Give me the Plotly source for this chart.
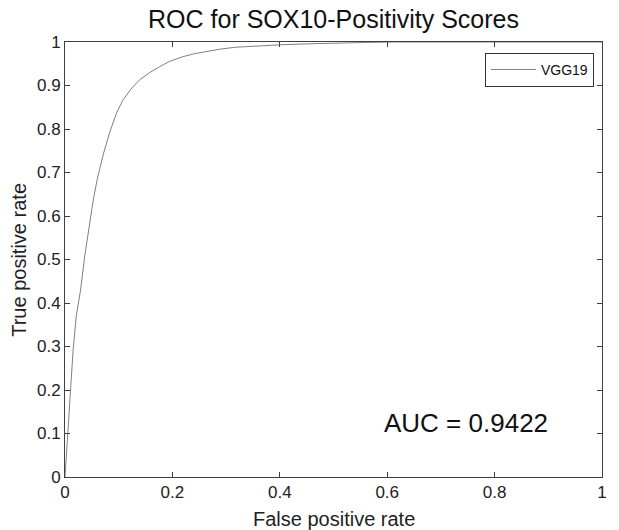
import plotly.graph_objects as go

fpr = [0, 0.002, 0.005, 0.010, 0.015, 0.021, 0.029, 0.037, 0.046, 0.053, 0.061, 0.072,
       0.084, 0.096, 0.108, 0.123, 0.139, 0.158, 0.176, 0.194, 0.219, 0.240, 0.263, 0.291,
       0.318, 0.358, 0.409, 0.460, 0.511, 0.560, 0.610, 0.700, 0.800, 0.900, 1.0]
tpr = [0, 0.04, 0.10, 0.20, 0.29, 0.37, 0.43, 0.51, 0.59, 0.64, 0.69, 0.745,
       0.795, 0.837, 0.867, 0.892, 0.913, 0.93, 0.943, 0.955, 0.966, 0.973, 0.978, 0.984,
       0.988, 0.991, 0.994, 0.996, 0.998, 0.999, 1.0, 1.0, 1.0, 1.0, 1.0]
series_name = "VGG19"
auc_text = "AUC = 0.9422"

FONT = "Liberation Sans, Arial, sans-serif"
AX = "#404040"

fig = go.Figure()
fig.add_trace(go.Scatter(x=fpr, y=tpr, mode="lines", name=series_name,
                         line=dict(color="#808080", width=1)))

axis_common = dict(range=[0, 1], showline=True, mirror="ticks", linecolor=AX, linewidth=1,
                   ticks="inside", ticklen=5, tickcolor=AX, showgrid=False, zeroline=False,
                   tickfont=dict(family=FONT, size=17, color="#222"))

fig.update_layout(
    width=619, height=530,
    margin=dict(l=65, r=14, t=42, b=53),
    paper_bgcolor="white", plot_bgcolor="white",
    font=dict(family=FONT, color="#111"),
    title=dict(text="ROC for SOX10-Positivity Scores", x=0.5, xref="paper",
               y=1 - 19 / 530, yref="container", yanchor="middle", xanchor="center",
               font=dict(family=FONT, size=25, color="#111")),
    xaxis=dict(dtick=0.2, tick0=0, **axis_common),
    yaxis=dict(dtick=0.1, tick0=0, **axis_common),
    showlegend=True,
    legend=dict(x=0.985, y=0.975, xanchor="right", yanchor="top",
                bordercolor="#333", borderwidth=1, bgcolor="white",
                font=dict(family=FONT, size=14, color="#111"),
                itemwidth=45, tracegroupgap=0),
    annotations=[
        dict(text="False positive rate", xref="paper", yref="paper", x=0.5, y=-(519 - 477) / 435,
             xanchor="center", yanchor="middle", showarrow=False,
             font=dict(family=FONT, size=20, color="#222")),
        dict(text="True positive rate", xref="paper", yref="paper", x=(18 - 65) / 540, y=0.5,
             xanchor="center", yanchor="middle", showarrow=False, textangle=-90,
             font=dict(family=FONT, size=20, color="#222")),
        dict(text=auc_text, xref="x", yref="y", x=0.591, y=0.124,
             xanchor="left", yanchor="middle", showarrow=False,
             font=dict(family=FONT, size=26, color="#111")),
    ],
)

fig.write_html("out.html", config={"displayModeBar": False},
               post_script="document.body.style.margin='0px';document.body.style.overflow='hidden';")
